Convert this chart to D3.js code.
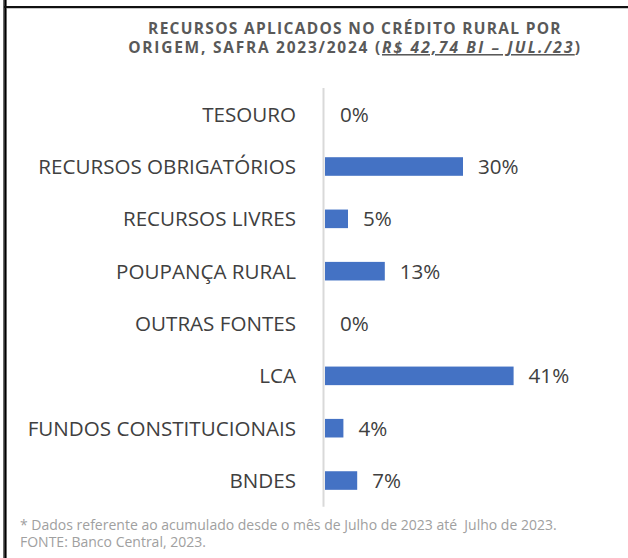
<!DOCTYPE html>
<html>
<head>
<meta charset="utf-8">
<script src="https://cdn.jsdelivr.net/npm/d3@7"></script>
<style>
  body { margin: 0; background: #fff; }
  svg { display: block; font-family: "Open Sans", sans-serif; }
</style>
</head>
<body>
<div class="chart"></div>
<script>
// Data
const categories = [
  'TESOURO',
  'RECURSOS OBRIGATÓRIOS',
  'RECURSOS LIVRES',
  'POUPANÇA RURAL',
  'OUTRAS FONTES',
  'LCA',
  'FUNDOS CONSTITUCIONAIS',
  'BNDES',
];
const shares = [0, 30, 5, 13, 0, 41, 4, 7]; // percent

const titleLine1 = 'RECURSOS APLICADOS NO CRÉDITO RURAL POR';
const titleLine2 = ['ORIGEM, SAFRA 2023/2024 (', 'R$ 42,74 BI – JUL./23', ')'];
const notes = [
  '* Dados referente ao acumulado desde o mês de Julho de 2023 até  Julho de 2023.',
  'FONTE: Banco Central, 2023.',
];

// SVG dimensions
const width = 628;
const height = 558;

const svg = d3.select('.chart')
  .append('svg')
  .attr('width', width)
  .attr('height', height);

// Frame lines (left and top)
svg.append('rect').attr('x', 3).attr('y', 0).attr('width', 4).attr('height', height).attr('fill', '#6b6b6b');
svg.append('rect').attr('x', 4.5).attr('y', 0).attr('width', 1.5).attr('height', height).attr('fill', '#000');
svg.append('rect').attr('x', 4).attr('y', 6).attr('width', width - 4).attr('height', 2).attr('fill', '#111');
svg.append('rect').attr('x', 7).attr('y', 8).attr('width', width - 7).attr('height', 1).attr('fill', '#c8c8c8');

// Scales
const x = d3.scaleLinear().domain([0, 45]).range([325, 325 + 45 * 4.6]);
const y = d3.scaleBand()
  .domain(categories)
  .range([88, 506.7])
  .paddingInner(0.645)
  .paddingOuter(0.3225);

// Title
const title = svg.append('g')
  .attr('fill', '#595959')
  .style('font-size', '15.5px')
  .style('font-weight', 'bold');

title.append('text')
  .attr('x', 355).attr('y', 34.3)
  .attr('text-anchor', 'middle')
  .style('letter-spacing', '1.3px')
  .text(titleLine1);

const l2 = title.append('text')
  .attr('x', 355).attr('y', 53)
  .attr('text-anchor', 'middle')
  .style('letter-spacing', '1.75px');
l2.append('tspan').text(titleLine2[0]);
l2.append('tspan')
  .style('font-style', 'italic')
  .style('text-decoration', 'underline')
  .style('letter-spacing', '2.2px')
  .text(titleLine2[1]);
l2.append('tspan').text(titleLine2[2]);

// Axis line
svg.append('line')
  .attr('x1', 323.5).attr('x2', 323.5)
  .attr('y1', 88).attr('y2', 506.7)
  .attr('stroke', '#d9d9d9')
  .attr('stroke-width', 2);

// Category labels
svg.selectAll('text.cat')
  .data(categories)
  .enter()
  .append('text')
  .attr('class', 'cat')
  .attr('x', 296)
  .attr('y', d => y(d) + y.bandwidth() / 2)
  .attr('dy', '0.36em')
  .attr('text-anchor', 'end')
  .attr('fill', '#404040')
  .style('font-size', '20.6px')
  .text(d => d);

// Bars
svg.selectAll('rect.bar')
  .data(shares)
  .enter()
  .append('rect')
  .attr('class', 'bar')
  .attr('x', x(0))
  .attr('y', (d, i) => y(categories[i]))
  .attr('width', d => x(d) - x(0))
  .attr('height', y.bandwidth())
  .attr('fill', '#4472C4');

// Value labels
svg.selectAll('text.val')
  .data(shares)
  .enter()
  .append('text')
  .attr('class', 'val')
  .attr('x', d => x(d) + 15)
  .attr('y', (d, i) => y(categories[i]) + y.bandwidth() / 2)
  .attr('dy', '0.36em')
  .attr('fill', '#404040')
  .style('font-size', '20.6px')
  .text(d => d + '%');

// Footnotes
svg.selectAll('text.note')
  .data(notes)
  .enter()
  .append('text')
  .attr('class', 'note')
  .attr('x', 20)
  .attr('y', (d, i) => 530 + i * 17.3)
  .attr('fill', '#a0a0a0')
  .style('font-size', '14px')
  .style('white-space', 'pre')
  .text(d => d);
</script>
</body>
</html>
